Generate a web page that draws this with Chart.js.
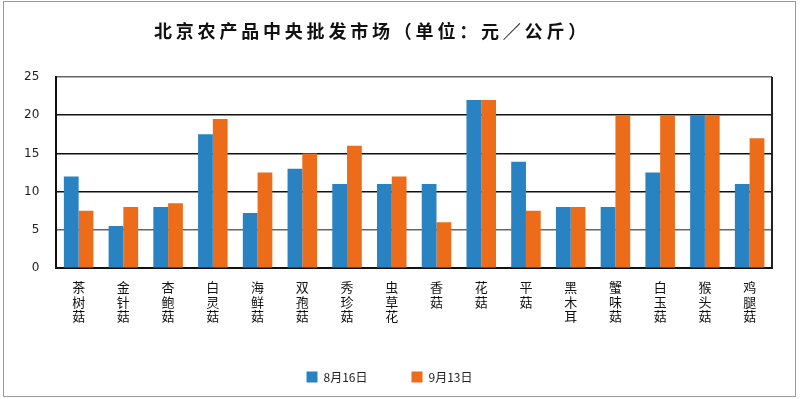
<!DOCTYPE html>
<html>
<head>
<meta charset="utf-8">
<script src="https://cdn.jsdelivr.net/npm/chart.js@4.4.0/dist/chart.umd.min.js"></script>
<style>
  body { margin: 0; background: #fff; }
  #wrap { width: 800px; height: 399px; position: relative; }
</style>
</head>
<body>
<div id="wrap"><canvas id="chart" width="800" height="399"></canvas></div>
<script>
// data
const categories = ["茶树菇", "金针菇", "杏鲍菇", "白灵菇", "海鲜菇", "双孢菇", "秀珍菇", "虫草花",
  "香菇", "花菇", "平菇", "黑木耳", "蟹味菇", "白玉菇", "猴头菇", "鸡腿菇"];
const aug16 = [12, 5.5, 8, 17.5, 7.2, 13, 11, 11, 11, 22, 13.9, 8, 8, 12.5, 20, 11];
const sep13 = [7.5, 8, 8.5, 19.5, 12.5, 15, 16, 12, 6, 22, 7.5, 8, 20, 20, 20, 17];
const seriesNames = ["8月16日", "9月13日"];
const yTicks = [0, 5, 10, 15, 20, 25];
const titleText = "北京农产品中央批发市场（单位：元／公斤）";

// each label stacked one character per line
const stacked = categories.map((c) => c.split(""));

const frame = {
  id: "frame",
  afterDraw(chart) {
    const ctx = chart.ctx;
    const a = chart.chartArea;
    ctx.save();
    // outer box
    ctx.strokeStyle = "#9a9a9a";
    ctx.lineWidth = 1;
    ctx.strokeRect(3.5, 1.5, 792, 395);
    // right border of plot
    ctx.strokeStyle = "#222";
    ctx.lineWidth = 2;
    ctx.beginPath();
    ctx.moveTo(a.right, a.top);
    ctx.lineTo(a.right, a.bottom);
    ctx.stroke();
    // title
    ctx.fillStyle = "#111";
    ctx.font = "bold 18px 'Noto Sans CJK SC'";
    ctx.letterSpacing = "3.8px";
    ctx.textAlign = "center";
    ctx.textBaseline = "middle";
    ctx.fillText(titleText, 372, 31);
    ctx.restore();
  },
};

new Chart(document.getElementById("chart"), {
  type: "bar",
  data: {
    labels: stacked,
    datasets: [
      {
        label: seriesNames[0],
        data: aug16,
        backgroundColor: "rgb(41, 131, 194)",
        categoryPercentage: 0.66,
        barPercentage: 1.0,
      },
      {
        label: seriesNames[1],
        data: sep13,
        backgroundColor: "rgb(236, 108, 26)",
        categoryPercentage: 0.66,
        barPercentage: 1.0,
      },
    ],
  },
  options: {
    responsive: false,
    animation: false,
    layout: { padding: { top: 77, right: 28, left: 7, bottom: 6 } },
    plugins: {
      title: { display: false },
      tooltip: { enabled: false },
      legend: {
        position: "bottom",
        labels: {
          boxWidth: 11,
          boxHeight: 11,
          padding: 44,
          color: "#222",
          font: { size: 12, family: "'Noto Sans CJK SC'" },
        },
      },
    },
    scales: {
      x: {
        grid: { display: false },
        border: { color: "#111", width: 2 },
        ticks: {
          color: "#111",
          padding: 3,
          maxRotation: 0,
          autoSkip: false,
          font: { size: 13, family: "'Noto Sans CJK SC'", lineHeight: 1.15 },
        },
      },
      y: {
        min: 0,
        max: 25,
        afterBuildTicks: (axis) => {
          axis.ticks = yTicks.map((v) => ({ value: v }));
        },
        border: { color: "#111", width: 2 },
        grid: {
          drawTicks: false,
          color: (c) => (c.tick && (c.tick.value === 5 || c.tick.value === 25) ? "#666" : "#111"),
          lineWidth: 1.5,
        },
        ticks: {
          color: "#222",
          padding: 17,
          font: { size: 12, family: "'DejaVu Sans'" },
        },
      },
    },
  },
  plugins: [frame],
});
</script>
</body>
</html>
